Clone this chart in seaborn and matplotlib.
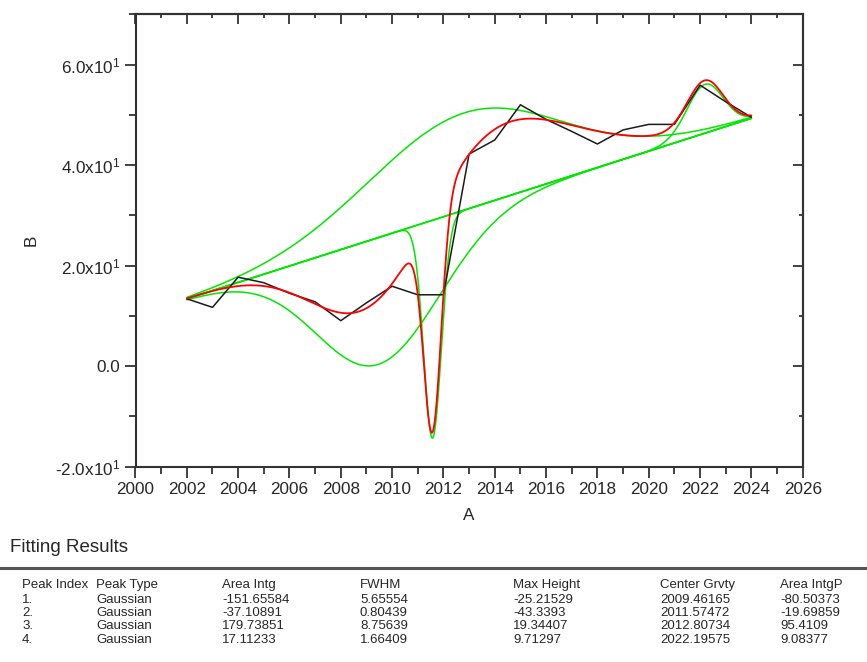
import numpy as np
import pandas as pd
import matplotlib
matplotlib.use("Agg")
import matplotlib.pyplot as plt
from matplotlib import font_manager
from matplotlib.ticker import MultipleLocator, FixedLocator
import seaborn as sns

# Measured series
years = list(range(2002, 2025))
values = [13.4, 11.7, 17.7, 16.6, 14.5, 12.8, 9.05, 12.6, 15.9, 14.2, 14.2,
          42.2, 45.0, 52.0, 49.1, 46.7, 44.2, 47.0, 48.1, 48.1, 55.9, 52.6, 49.5]

# Linear baseline anchors
base_x = [2002, 2024]
base_y = [13.4, 49.3]

# Peak fit results
peak_index = ["1.", "2.", "3.", "4."]
peak_type = ["Gaussian", "Gaussian", "Gaussian", "Gaussian"]
area_intg = ["-151.65584", "-37.10891", "179.73851", "17.11233"]
fwhm = [5.65554, 0.80439, 8.75639, 1.66409]
max_height = [-25.21529, -43.3393, 19.34407, 9.71297]
center = [2009.46165, 2011.57472, 2012.80734, 2022.19575]
area_intgp = ["-80.50373", "-19.69859", "95.4109", "9.08377"]

col_headers = ["Peak Index", "Peak Type", "Area Intg", "FWHM",
               "Max Height", "Center Grvty", "Area IntgP"]

x_ticks = list(range(2000, 2027, 2))
y_ticks = [-20, 0, 20, 40, 60]
y_tick_labels = [r"-2.0x10$^{1}$", "0.0", r"2.0x10$^{1}$",
                 r"4.0x10$^{1}$", r"6.0x10$^{1}$"]

sns.set_style("white")
installed = {f.name for f in font_manager.fontManager.ttflist}
main_font = "Liberation Sans" if "Liberation Sans" in installed else "DejaVu Sans"
narrow_font = "Liberation Sans Narrow" if "Liberation Sans Narrow" in installed else main_font
plt.rcParams["font.family"] = [main_font, "DejaVu Sans"]
plt.rcParams["mathtext.fontset"] = "custom"
plt.rcParams["mathtext.rm"] = main_font
plt.rcParams["mathtext.it"] = main_font
plt.rcParams["mathtext.bf"] = main_font

fig = plt.figure(figsize=(8.67, 6.62), dpi=100)
ax = fig.add_axes([135.5 / 867, 1 - 466.7 / 662,
                   (802.7 - 135.5) / 867, (466.7 - 14.3) / 662])

# Model curves from the fitted parameters
xf = np.linspace(2002, 2024, 1500)
baseline = np.interp(xf, base_x, base_y)
comps = []
for h, w, c in zip(max_height, fwhm, center):
    s = w / (2 * np.sqrt(2 * np.log(2)))
    comps.append(h * np.exp(-(xf - c) ** 2 / (2 * s ** 2)))
fit_total = baseline + np.sum(comps, axis=0)

green = "#00e800"
sns.lineplot(x=xf, y=baseline, ax=ax, color=green, lw=1.2)
for comp in comps:
    sns.lineplot(x=xf, y=baseline + comp, ax=ax, color=green, lw=1.1)

df = pd.DataFrame({"A": years, "B": values})
sns.lineplot(data=df, x="A", y="B", ax=ax, color="#1a1a1a", lw=1.1)
sns.lineplot(x=xf, y=fit_total, ax=ax, color="#ff0000", lw=1.3)

ax.set_xlim(2000, 2026)
ax.set_ylim(-20, 70)
ax.set_xticks(x_ticks)
ax.xaxis.set_minor_locator(MultipleLocator(1))
ax.yaxis.set_major_locator(FixedLocator(y_ticks))
ax.set_yticklabels(y_tick_labels)
ax.yaxis.set_minor_locator(MultipleLocator(10))
ax.tick_params(axis="both", which="major", direction="out", length=8,
               width=1.3, color="#333333", labelsize=12.3, pad=3,
               bottom=True, left=True)
ax.tick_params(axis="both", which="minor", direction="out", length=5,
               width=1.3, color="#333333", bottom=True, left=True)
ax.set_xlabel("A", fontsize=12.3, labelpad=8)
ax.set_ylabel("B", fontsize=12.3, labelpad=12)
for sp in ax.spines.values():
    sp.set_visible(True)
    sp.set_color("#333333")
    sp.set_linewidth(1.5)

# Mirrored inward ticks on top and right
top = ax.secondary_xaxis("top")
top.set_xticks(x_ticks)
top.xaxis.set_minor_locator(MultipleLocator(1))
top.tick_params(which="major", direction="in", length=7, width=1.3,
                color="#333333", labeltop=False)
top.tick_params(which="minor", direction="in", length=3, width=1.3,
                color="#333333")
top.spines["top"].set_color("#333333")
top.spines["top"].set_linewidth(1.5)
right = ax.secondary_yaxis("right")
right.set_yticks(y_ticks)
right.yaxis.set_minor_locator(MultipleLocator(10))
right.tick_params(which="major", direction="in", length=7, width=1.3,
                  color="#333333", labelright=False)
right.tick_params(which="minor", direction="in", length=3, width=1.3,
                  color="#333333")
right.spines["right"].set_color("#333333")
right.spines["right"].set_linewidth(1.5)

# Results table
fig.text(10 / 867, 1 - 548 / 662, "Fitting Results", fontsize=13.5,
         family=[narrow_font, "DejaVu Sans"], va="center", ha="left")
fig.add_artist(plt.Line2D([0, 1], [1 - 568 / 662] * 2,
                          transform=fig.transFigure, color="#555555", lw=2.2))
col_x = [22, 96, 222, 360, 513, 660, 780]
rows = [[peak_index[i], peak_type[i], area_intg[i], f"{fwhm[i]:.5f}",
         f"{max_height[i]}", f"{center[i]:.5f}", area_intgp[i]]
        for i in range(4)]
row_y = [585, 600, 613, 626, 640]
for r, line in enumerate([col_headers] + rows):
    for cx, txt in zip(col_x, line):
        fig.text(cx / 867, 1 - row_y[r] / 662, txt, fontsize=9.5,
                 family=[narrow_font, "DejaVu Sans"], va="center", ha="left")

fig.savefig("out.png", dpi=100)
